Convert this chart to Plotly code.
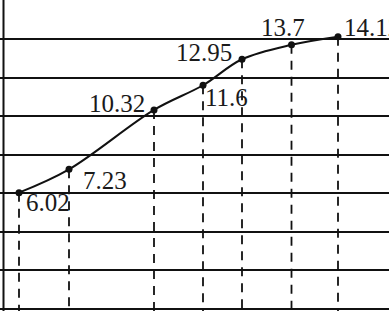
import plotly.graph_objects as go

# data
x_vals = [1, 2, 3.7, 4.68, 5.46, 6.45, 7.38]
y_vals = [6.02, 7.23, 10.32, 11.6, 12.95, 13.7, 14.12]
labels = ["6.02", "7.23", "10.32", "11.6", "12.95", "13.7", "14.12"]
y_ticks = [0, 2, 4, 6, 8, 10, 12, 14, 16]

# label placement (style only)
lab_anchor = ["left", "left", "right", "left", "right", "center", "left"]
lab_dx = [5, 12, -7, 0, -8, -9, 4]
lab_dy = [-10, -11, 6, -12, 7, 17, 9]

Y_MIN, Y_MAX = -0.13, 16.03
X_MIN, X_MAX = 0.62, 8.4

fig = go.Figure()

# dashed drop lines
for xv, yv in zip(x_vals, y_vals):
    fig.add_trace(go.Scatter(
        x=[xv, xv], y=[yv, Y_MIN - 1], mode="lines",
        line=dict(color="#111", width=1.8, dash="9px,7px"),
        hoverinfo="skip", showlegend=False, cliponaxis=True))

# smooth curve
fig.add_trace(go.Scatter(
    x=x_vals, y=y_vals, mode="lines+markers",
    line=dict(color="#111", width=2, shape="spline", smoothing=1.0),
    marker=dict(color="#111", size=7),
    showlegend=False))

for xv, yv, t, a, dx, dy in zip(x_vals, y_vals, labels, lab_anchor, lab_dx, lab_dy):
    fig.add_annotation(
        x=xv, y=yv, text=t, showarrow=False, xanchor=a, yanchor="middle",
        xshift=dx, yshift=dy,
        font=dict(family="Liberation Serif", size=25, color="#1a1a1a"))

# left border
fig.add_shape(type="line", xref="paper", yref="paper",
              x0=3.5 / 389, x1=3.5 / 389, y0=0, y1=1,
              line=dict(color="#111", width=2))

fig.update_layout(
    width=389, height=311,
    margin=dict(l=0, r=0, t=0, b=0),
    paper_bgcolor="white", plot_bgcolor="white",
    xaxis=dict(range=[X_MIN, X_MAX], showgrid=False, zeroline=False,
               showticklabels=False, showline=False),
    yaxis=dict(range=[Y_MIN, Y_MAX], tickvals=y_ticks, showgrid=True,
               gridcolor="#111", gridwidth=2, zeroline=False,
               showticklabels=False, showline=False),
)

fig.write_html("out.html")
